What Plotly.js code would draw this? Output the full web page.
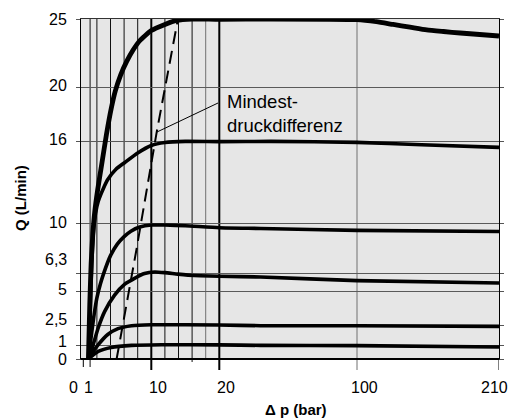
<!DOCTYPE html>
<html>
<head>
<meta charset="utf-8">
<script src="https://cdn.plot.ly/plotly-3.0.1.min.js"></script>
<style>html,body{margin:0;padding:0;background:#fff;}#chart{width:525px;height:419px;}</style>
</head>
<body>
<div id="chart"></div>
<script>
// ---- Axis definitions ----
const xTickVals = [0, 1, 10, 20, 100, 210];
const xTickText = ['0', '1', '10', '20', '100', '210'];
const yTickVals = [0, 1, 2.5, 5, 6.3, 10, 16, 20, 25];
const yTickText = ['0', '1', '2,5', '5', '6,3', '10', '16', '20', '25'];
const xGridBlack = [1, 2, 4, 6, 8, 12, 14, 16];
const xGridThick = [10, 20];
const xGridGrey = [18, 100];

// piecewise scale of the Δp axis (breakpoints and their axis positions)
const xBreaks = [0, 20, 100, 210];
const xBreakPos = [0, 136, 273.7, 415.7];

// ---- Series (Δp in bar, Q in L/min) ----
const dp25 = [0.75, 0.95, 1.15, 1.4, 1.7, 2.1, 2.7, 3.4, 4.1, 4.7, 5.5, 6.4, 7.3, 8.3, 10, 12, 13.7, 16, 20, 50, 100, 115, 128, 141, 154, 167, 180, 195, 210];
const q25  = [0, 4.0, 7.0, 9.2, 10.9, 12.4, 14.3, 16.5, 18.4, 19.7, 20.9, 21.9, 22.7, 23.4, 24.15, 24.6, 24.9, 25.0, 24.97, 25.0, 24.95, 24.8, 24.6, 24.4, 24.2, 24.08, 23.97, 23.86, 23.75];

const dp16 = [0.8, 1.0, 1.15, 1.35, 1.55, 1.8, 2.2, 3.0, 3.6, 4.8, 6.1, 8, 10, 12, 15, 20, 50, 100, 150, 210];
const q16  = [0, 3.0, 5.6, 8.2, 9.7, 10.7, 11.6, 12.6, 13.2, 13.95, 14.45, 15.15, 15.7, 15.92, 16.0, 15.98, 16.0, 15.93, 15.75, 15.56];

const dp10 = [0.8, 1.0, 1.25, 1.6, 2.0, 2.5, 3.0, 4.0, 5.0, 6.0, 7.0, 8.3, 10, 12, 15, 20, 44, 100, 210];
const q10  = [0, 1.0, 2.0, 3.3, 4.5, 5.5, 6.3, 7.6, 8.45, 9.0, 9.4, 9.7, 9.85, 9.85, 9.8, 9.65, 9.6, 9.46, 9.38];

const dp63 = [0.8, 1.2, 1.6, 2.2, 3.15, 4.6, 6.1, 7.6, 9.0, 10.5, 12, 13.9, 15.4, 17.2, 20, 44, 100, 210];
const q63  = [0, 0.6, 1.3, 2.3, 3.5, 4.7, 5.5, 5.95, 6.28, 6.4, 6.35, 6.24, 6.17, 6.12, 6.08, 6.03, 5.76, 5.59];

const dp2_5 = [0.8, 1.2, 2.2, 3.6, 5.1, 7.1, 10, 20, 44, 100, 210];
const q2_5  = [0, 0.35, 1.05, 1.8, 2.23, 2.45, 2.52, 2.5, 2.45, 2.45, 2.4];

const dp1 = [0.8, 1.2, 2.2, 4.1, 7.1, 11.5, 20, 44, 100, 210];
const q1  = [0, 0.2, 0.56, 0.85, 1.0, 1.05, 1.04, 1.0, 0.98, 0.88];

const dpMin = [4.9, 7.8, 10.8, 13.9];
const qMin  = [0, 8.0, 16.7, 24.95];

const noteText = 'Mindest-<br>druckdifferenz';
const xTitle = 'Δ p (bar)';
const yTitle = 'Q (L/min)';

// ---- scale helper ----
function toU(p) {
  for (let i = 0; i < xBreaks.length - 1; i++) {
    if (p <= xBreaks[i + 1] || i === xBreaks.length - 2) {
      const t = (p - xBreaks[i]) / (xBreaks[i + 1] - xBreaks[i]);
      return xBreakPos[i] + t * (xBreakPos[i + 1] - xBreakPos[i]);
    }
  }
}

const FONT = 'Liberation Sans, Arial, sans-serif';

function curve(dp, q, w) {
  return {
    x: dp.map(toU), y: q, type: 'scatter', mode: 'lines',
    line: {color: '#000', width: w, shape: 'spline', smoothing: 0.5},
    hoverinfo: 'skip', cliponaxis: true
  };
}

const traces = [
  curve(dp1, q1, 3.6),
  curve(dp2_5, q2_5, 3.6),
  curve(dp63, q63, 3.6),
  curve(dp10, q10, 3.6),
  curve(dp16, q16, 3.6),
  curve(dp25, q25, 4.8),
  {x: dpMin.map(toU), y: qMin, type: 'scatter', mode: 'lines',
   line: {color: '#000', width: 2, dash: '13px,7px'}, hoverinfo: 'skip'}
];

const shapes = [];
function vline(v, color, w, below) {
  shapes.push({type: 'line', xref: 'x', yref: 'paper', x0: toU(v), x1: toU(v), y0: -below / 340, y1: 1,
               line: {color: color, width: w}, layer: 'below'});
}
xGridBlack.forEach(v => vline(v, '#111', 1, v === 16 ? 3 : (v === 1 ? 8 : 0)));
xGridThick.forEach(v => vline(v, '#000', 2, 11));
xGridGrey.forEach(v => vline(v, '#707070', 1, v === 100 ? 11 : 0));
// tick marks at 0 and 210 below the axis
shapes.push({type: 'line', xref: 'x', yref: 'paper', x0: toU(0), x1: toU(0), y0: -8 / 340, y1: 0, line: {color: '#000', width: 1}});
shapes.push({type: 'line', xref: 'x', yref: 'paper', x0: toU(210), x1: toU(210), y0: -11 / 340, y1: 0, line: {color: '#000', width: 1}});
// bottom axis line (thicker)
shapes.push({type: 'line', xref: 'paper', yref: 'paper', x0: 0, x1: 1, y0: 0, y1: 0, line: {color: '#000', width: 2}});
// pointer line of the note
shapes.push({type: 'line', xref: 'paper', yref: 'paper',
             x0: (218 - 81) / 418, y0: (359 - 103) / 340, x1: (157 - 81) / 418, y1: (359 - 132) / 340,
             line: {color: '#000', width: 1}});

const annotations = [];
const xLabelShift = [-10, -1.5, 7, 7, 7, -5];
xTickVals.forEach((v, i) => {
  annotations.push({text: xTickText[i], xref: 'x', yref: 'paper', x: toU(v), y: -28 / 340,
                    xanchor: 'center', yanchor: 'middle', xshift: xLabelShift[i], showarrow: false,
                    font: {family: FONT, size: 16, color: '#000'}});
});
const yLabelShift = [0, 4, 6, 2, 14, 1, 2, 2, 0];
yTickVals.forEach((v, i) => {
  annotations.push({text: yTickText[i], xref: 'paper', yref: 'y', x: 0, y: v,
                    xanchor: 'right', yanchor: 'middle', xshift: -12, yshift: yLabelShift[i], showarrow: false,
                    font: {family: FONT, size: 16, color: '#000'}});
});
annotations.push({text: noteText, xref: 'paper', yref: 'paper', x: (225 - 81) / 418, y: (359 - 113) / 340,
                  xanchor: 'left', yanchor: 'middle', align: 'left', showarrow: false,
                  font: {family: FONT, size: 18.5, color: '#000'}});
annotations.push({text: '<b>' + xTitle + '</b>', xref: 'paper', yref: 'paper', x: (296 - 81) / 418, y: -50 / 340,
                  xanchor: 'center', yanchor: 'middle', showarrow: false,
                  font: {family: FONT, size: 15, color: '#000'}});
annotations.push({text: '<b>' + yTitle + '</b>', xref: 'paper', yref: 'paper', x: -61 / 418, y: (359 - 198) / 340,
                  xanchor: 'center', yanchor: 'middle', textangle: -90, showarrow: false,
                  font: {family: FONT, size: 15, color: '#000'}});

const layout = {
  width: 525, height: 419,
  margin: {l: 81, r: 26, t: 19, b: 60, pad: 0},
  paper_bgcolor: '#fff', plot_bgcolor: '#e6e6e6',
  showlegend: false,
  font: {family: FONT, size: 16, color: '#000'},
  xaxis: {range: [-2.3, 415.7], showgrid: false, zeroline: false, showticklabels: false, ticks: '',
          showline: true, mirror: true, linecolor: '#333', linewidth: 1, fixedrange: true},
  yaxis: {range: [0, 25], tickvals: yTickVals, showticklabels: false, ticks: 'outside', ticklen: 4,
          tickcolor: '#555', tickwidth: 1, showgrid: true, gridcolor: '#5a5a5a', gridwidth: 1,
          zeroline: false, showline: true, mirror: 'ticks', linecolor: '#000', linewidth: 1, fixedrange: true},
  shapes: shapes,
  annotations: annotations
};

Plotly.newPlot('chart', traces, layout, {staticPlot: true, displayModeBar: false});
</script>
</body>
</html>
